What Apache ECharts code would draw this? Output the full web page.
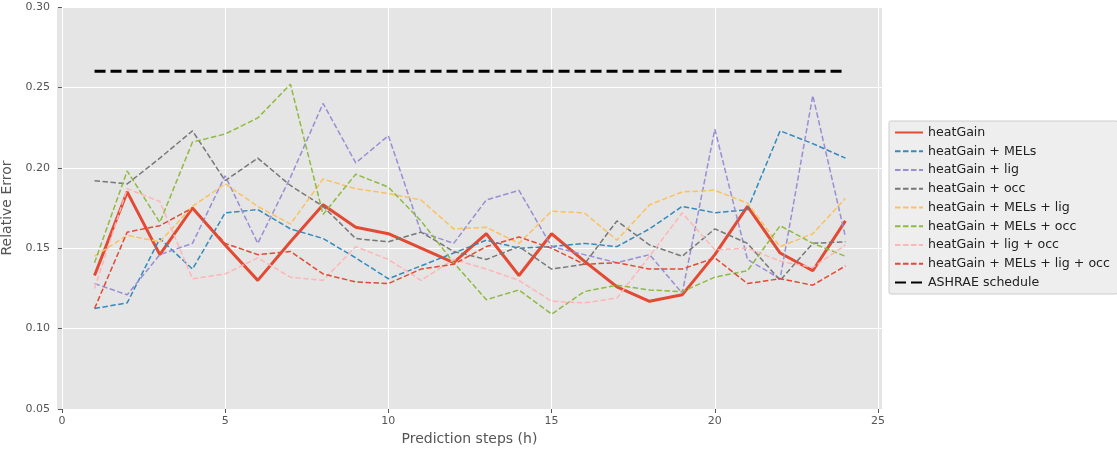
<!DOCTYPE html>
<html>
<head>
<meta charset="utf-8">
<script src="https://cdn.jsdelivr.net/npm/echarts@6/dist/echarts.min.js"></script>
<style>
html,body{margin:0;padding:0;background:#fff;}
#chart{width:1117px;height:450px;}
</style>
</head>
<body>
<div id="chart"></div>
<script>
const steps = [1,2,3,4,5,6,7,8,9,10,11,12,13,14,15,16,17,18,19,20,21,22,23,24];
const xTicks = [0,5,10,15,20,25];

const heatGain        = [0.133,0.185,0.146,0.175,0.152,0.130,0.154,0.177,0.163,0.159,0.150,0.141,0.159,0.133,0.159,0.142,0.126,0.117,0.121,0.146,0.176,0.147,0.136,0.167];
const heatGainMELs    = [0.1125,0.116,0.156,0.137,0.172,0.174,0.162,0.156,0.144,0.131,0.139,0.147,0.155,0.150,0.151,0.153,0.151,0.162,0.176,0.172,0.174,0.223,0.215,0.206];
const heatGainLig     = [0.128,0.121,0.146,0.153,0.195,0.153,0.194,0.240,0.203,0.220,0.160,0.153,0.180,0.186,0.151,0.146,0.141,0.146,0.122,0.224,0.143,0.131,0.245,0.157];
const heatGainOcc     = [0.192,0.190,0.206,0.223,0.192,0.206,0.189,0.176,0.156,0.154,0.160,0.148,0.143,0.151,0.137,0.140,0.167,0.152,0.145,0.162,0.153,0.130,0.153,0.154];
const heatGainMELsLig = [0.145,0.158,0.154,0.176,0.190,0.176,0.165,0.193,0.187,0.184,0.180,0.162,0.163,0.153,0.173,0.172,0.155,0.177,0.185,0.186,0.178,0.151,0.159,0.181];
const heatGainMELsOcc = [0.141,0.198,0.166,0.216,0.221,0.231,0.252,0.171,0.196,0.188,0.167,0.141,0.118,0.124,0.109,0.123,0.127,0.124,0.123,0.132,0.136,0.164,0.153,0.145];
const heatGainLigOcc  = [0.125,0.187,0.179,0.131,0.134,0.144,0.132,0.130,0.151,0.143,0.130,0.143,0.137,0.130,0.117,0.116,0.119,0.145,0.172,0.149,0.150,0.142,0.138,0.152];
const heatGainAll     = [0.1125,0.160,0.164,0.175,0.153,0.146,0.148,0.134,0.129,0.128,0.137,0.140,0.151,0.157,0.150,0.140,0.141,0.137,0.137,0.144,0.128,0.131,0.127,0.139];
const ashraeSteps = [1,24];
const ashrae      = [0.26,0.26];

const seriesNames = ['heatGain','heatGain + MELs','heatGain + lig','heatGain + occ','heatGain + MELs + lig','heatGain + MELs + occ','heatGain + lig + occ','heatGain + MELs + lig + occ','ASHRAE schedule'];
const seriesData = [heatGain,heatGainMELs,heatGainLig,heatGainOcc,heatGainMELsLig,heatGainMELsOcc,heatGainLigOcc,heatGainAll];
const colors = ['#E24A33','#348ABD','#988ED5','#777777','#FBC15E','#8EBA42','#FFB5B8','#E24A33'];

const series = seriesData.map((vals,i)=>({
  name: seriesNames[i],
  type: 'line',
  data: steps.map((s,j)=>[s, vals[j]]),
  symbol: 'none',
  silent: true,
  lineStyle: i===0 ? {color: colors[i], width: 3, type: 'solid'} : {color: colors[i], width: 1.5, type: [5.5, 2.5]},
  itemStyle: {color: colors[i]},
  z: 2
}));
series.push({
  name: seriesNames[8],
  type: 'line',
  data: ashraeSteps.map((s,j)=>[s, ashrae[j]]),
  symbol: 'none',
  silent: true,
  lineStyle: {color: '#000000', width: 3, type: [11, 5]},
  itemStyle: {color: '#000000'},
  z: 3
});

const chart = echarts.init(document.getElementById('chart'), null, {renderer: 'canvas'});
chart.setOption({
  animation: false,
  backgroundColor: '#ffffff',
  textStyle: {fontFamily: 'DejaVu Sans'},
  grid: {left: 57, right: 235, top: 7, bottom: 41, show: true, backgroundColor: '#E5E5E5', borderWidth: 0, outerBoundsMode: 'none', containLabel: false},
  xAxis: {
    type: 'value', min: -0.15, max: 25.12,
    name: 'Prediction steps (h)', nameLocation: 'middle', nameGap: 22,
    nameTextStyle: {fontSize: 14, color: '#555555', fontFamily: 'DejaVu Sans'},
    axisLine: {show: false},
    axisTick: {show: true, length: 4, lineStyle: {color: '#555555'}, customValues: xTicks},
    axisLabel: {fontSize: 11, color: '#555555', margin: 7, customValues: xTicks, formatter: v => String(v)},
    splitLine: {show: true, lineStyle: {color: '#ffffff', width: 1}}
  },
  yAxis: {
    type: 'value', min: 0.05, max: 0.30, interval: 0.05,
    name: 'Relative Error', nameLocation: 'middle', nameGap: 36, nameRotate: 90,
    nameTextStyle: {fontSize: 14, color: '#555555', fontFamily: 'DejaVu Sans'},
    axisLine: {show: false},
    axisTick: {show: true, length: 4, lineStyle: {color: '#555555'}},
    axisLabel: {fontSize: 11, color: '#555555', margin: 7, formatter: v => v.toFixed(2)},
    splitLine: {show: true, lineStyle: {color: '#ffffff', width: 1}}
  },
  legend: {
    orient: 'vertical', left: 889, top: 121,
    data: seriesNames,
    itemWidth: 28, itemHeight: 12, itemGap: 5.75,
    itemStyle: {opacity: 0},
    backgroundColor: '#EEEEEE', borderColor: '#CCCCCC', borderWidth: 1, borderRadius: 2,
    padding: [5, 8, 5, 5],
    textStyle: {fontSize: 12.6, color: '#222222', fontFamily: 'DejaVu Sans'},
    selectedMode: false
  },
  series: series
});
</script>
</body>
</html>
